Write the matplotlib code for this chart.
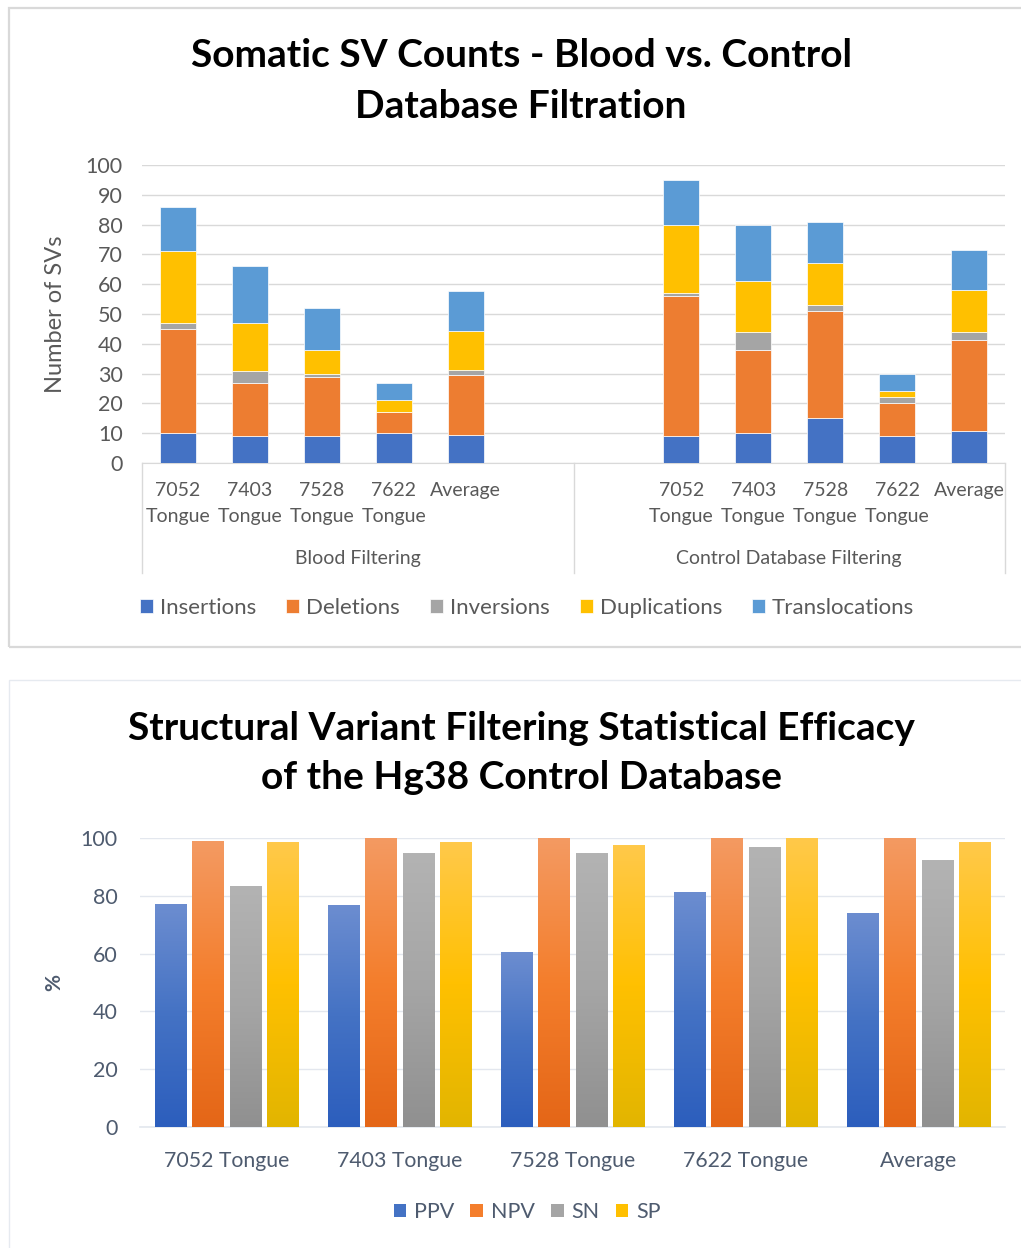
import numpy as np
import matplotlib
matplotlib.use('Agg')
import matplotlib.pyplot as plt
from matplotlib.colors import LinearSegmentedColormap
from matplotlib.patches import Rectangle
from matplotlib.lines import Line2D
import matplotlib.transforms as mtransforms

plt.rcParams['font.family'] = ['Lato', 'DejaVu Sans']

# --- chart 1: stacked SV counts ---
samples = ['7052\nTongue', '7403\nTongue', '7528\nTongue', '7622\nTongue', 'Average']
groups = ['Blood Filtering', 'Control Database Filtering']
sv_types = ['Insertions', 'Deletions', 'Inversions', 'Duplications', 'Translocations']
sv_colors = ['#4472C4', '#ED7D31', '#A5A5A5', '#FFC000', '#5B9BD5']

blood_ins = [10, 9, 9, 10, 9.5]
blood_del = [35, 18, 20, 7, 20]
blood_inv = [2, 4, 1, 0, 1.75]
blood_dup = [24, 16, 8, 4, 13]
blood_tra = [15, 19, 14, 6, 13.5]

ctrl_ins = [9, 10, 15, 9, 10.75]
ctrl_del = [47, 28, 36, 11, 30.5]
ctrl_inv = [1, 6, 2, 2, 2.75]
ctrl_dup = [23, 17, 14, 2, 14]
ctrl_tra = [15, 19, 14, 6, 13.5]

# --- chart 2: filtering efficacy ---
eff_labels = ['7052 Tongue', '7403 Tongue', '7528 Tongue', '7622 Tongue', 'Average']
ppv = [77.1, 76.6, 60.3, 81.1, 74.0]
npv = [98.8, 99.8, 99.8, 100.0, 99.8]
sn = [83.3, 94.5, 94.5, 96.7, 92.2]
sp = [98.4, 98.4, 97.5, 99.8, 98.4]
eff_names = ['PPV', 'NPV', 'SN', 'SP']

W, H = 1021, 1248
fig = plt.figure(figsize=(W / 100, H / 100), dpi=100)


def fx(px):
    return px / W


def fy(py):
    return 1 - py / H


# panel borders
fig.patches.append(Rectangle((fx(9), fy(647)), fx(1030 - 9), fy(8) - fy(647),
                             transform=fig.transFigure, fill=False,
                             edgecolor='#D9D9D9', lw=1.6))
fig.patches.append(Rectangle((fx(9), fy(1260)), fx(1030 - 9), fy(680) - fy(1260),
                             transform=fig.transFigure, fill=False,
                             edgecolor='#E6EAF0', lw=1.0))

gray = '#595959'

# ================= top chart =================
ax1 = fig.add_axes([fx(142), fy(463), fx(1005 - 142), fy(165) - fy(463)])
blood = [blood_ins, blood_del, blood_inv, blood_dup, blood_tra]
ctrl = [ctrl_ins, ctrl_del, ctrl_inv, ctrl_dup, ctrl_tra]
pos_blood = np.arange(5)
pos_ctrl = np.arange(5) + 7
for pos, data in [(pos_blood, blood), (pos_ctrl, ctrl)]:
    bottom = np.zeros(5)
    for i, vals in enumerate(data):
        ax1.bar(pos, vals, 0.5, bottom=bottom, color=sv_colors[i],
                edgecolor='white', linewidth=0.5, zorder=3,
                label=sv_types[i] if pos[0] == 0 else None)
        bottom += np.array(vals)

ax1.set_xlim(-0.5, 11.5)
ax1.set_ylim(0, 100)
ax1.set_yticks(np.arange(0, 101, 10))
ax1.grid(axis='y', color='#D9D9D9', lw=1.0, zorder=0)
for s in ['top', 'right', 'left']:
    ax1.spines[s].set_visible(False)
ax1.spines['bottom'].set_color('#D9D9D9')
ax1.tick_params(axis='y', length=0, labelsize=15.5, colors=gray, pad=14)
ticks = list(pos_blood) + list(pos_ctrl)
ax1.set_xticks(ticks)
ax1.set_xticklabels(samples + samples, fontsize=14, color=gray, linespacing=1.6,
                    va='top')
ax1.tick_params(axis='x', length=0, pad=14)
ax1.set_ylabel('Number of SVs', fontsize=17, color=gray, labelpad=14)

trans = mtransforms.blended_transform_factory(ax1.transData, ax1.transAxes)
for xs in [-0.5, 5.5, 11.5]:
    ax1.add_line(Line2D([xs, xs], [0, -0.37], transform=trans, color='#D9D9D9',
                        lw=1.0, clip_on=False))
ax1.text(2.5, -0.32, groups[0], transform=trans, ha='center', va='center',
         fontsize=14, color=gray)
ax1.text(8.5, -0.32, groups[1], transform=trans, ha='center', va='center',
         fontsize=14, color=gray)

fig.text(fx(521), fy(81), 'Somatic SV Counts - Blood vs. Control\nDatabase Filtration',
         ha='center', va='center', fontsize=28, fontweight='bold', color='black',
         linespacing=1.52)

fig.legend(*ax1.get_legend_handles_labels(), loc='center',
           bbox_to_anchor=(fx(527), fy(608)), ncol=5, frameon=False,
           fontsize=16, handlelength=0.6, handleheight=0.6,
           handletextpad=0.3, columnspacing=1.35, labelcolor=gray)

# ================= bottom chart =================
bg = '#4E5B6F'
ax2 = fig.add_axes([fx(140), fy(1127), fx(1005 - 140), fy(838) - fy(1127)])
x = np.arange(len(eff_labels))
step = 0.216
bw = 0.18
series = [ppv, npv, sn, sp]
grads = [('#6C8DD0', '#4472C4', '#2C5EBD'),
         ('#F39A62', '#F47E2C', '#E46617'),
         ('#B3B3B3', '#A5A5A5', '#909090'),
         ('#FFC94A', '#FFC000', '#E2B500')]
handles = []
for i, vals in enumerate(series):
    bars = ax2.bar(x + (i - 1.5) * step, vals, bw, zorder=4,
                   facecolor='none', edgecolor='none')
    cmap = LinearSegmentedColormap.from_list('g%d' % i,
                                             [grads[i][2], grads[i][1], grads[i][0]])
    g = np.linspace(0, 1, 256).reshape(-1, 1)
    for r in bars:
        ax2.imshow(g, cmap=cmap, origin='lower', aspect='auto', zorder=3,
                   extent=[r.get_x(), r.get_x() + r.get_width(),
                           r.get_y(), r.get_y() + r.get_height()])
    handles.append(Rectangle((0, 0), 1, 1, facecolor=grads[i][1]))

ax2.set_xlim(-0.5, 4.5)
ax2.set_ylim(0, 100)
ax2.set_yticks(np.arange(0, 101, 20))
ax2.grid(axis='y', color='#E3E7EE', lw=1.0, zorder=0)
for s in ['top', 'right', 'left']:
    ax2.spines[s].set_visible(False)
ax2.spines['bottom'].set_color('#E3E7EE')
ax2.spines['bottom'].set_linewidth(1.2)
ax2.set_xticks(x)
ax2.set_xticklabels(eff_labels, fontsize=15.3, color=bg)
ax2.tick_params(axis='x', length=0, pad=17)
ax2.tick_params(axis='y', length=0, labelsize=15.5, colors=bg, pad=16)
ax2.set_ylabel('%', fontsize=15, fontweight='bold', color=bg, labelpad=12)

fig.text(fx(521), fy(753), 'Structural Variant Filtering Statistical Efficacy\nof the Hg38 Control Database',
         ha='center', va='center', fontsize=28, fontweight='bold', color='black',
         linespacing=1.5)

fig.legend(handles, eff_names, loc='center', bbox_to_anchor=(fx(527), fy(1212)),
           ncol=4, frameon=False, fontsize=15.5, handlelength=0.6, handleheight=0.6,
           handletextpad=0.35, columnspacing=0.75, labelcolor=bg)

fig.savefig('out.png', dpi=100)
